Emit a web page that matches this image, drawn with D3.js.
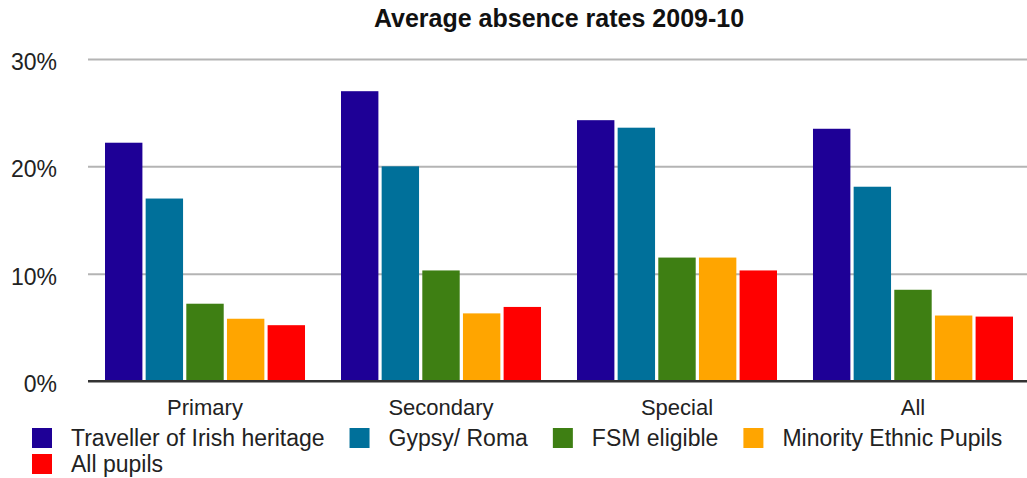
<!DOCTYPE html>
<html>
<head>
<meta charset="utf-8">
<script src="https://cdn.jsdelivr.net/npm/d3@7/dist/d3.min.js"></script>
<style>
  html, body { margin: 0; padding: 0; background: #ffffff; }
  svg { display: block; font-family: "Liberation Sans", Arial, Helvetica, sans-serif; }
</style>
</head>
<body>
<svg id="chart" width="1027" height="478"></svg>
<script>
// Average absence rates 2009-10, by school phase and pupil group (%)
const phases = ["Primary", "Secondary", "Special", "All"];
const groups = ["Traveller of Irish heritage", "Gypsy/ Roma", "FSM eligible", "Minority Ethnic Pupils", "All pupils"];
const colors = ["#1e0096", "#00709a", "#3e7f13", "#ffa500", "#ff0000"];

const traveller = [22.2, 27.0, 24.3, 23.5];
const gypsyRoma = [17.0, 20.0, 23.6, 18.1];
const fsmEligible = [7.2, 10.3, 11.5, 8.5];
const minorityEthnic = [5.8, 6.3, 11.5, 6.1];
const allPupils = [5.2, 6.9, 10.3, 6.0];

const yTicks = [0, 10, 20, 30];
const yTickLabels = ["0%", "10%", "20%", "30%"];

const seriesValues = [traveller, gypsyRoma, fsmEligible, minorityEthnic, allPupils];
const rows = phases.map((p, i) => ({
  phase: p,
  values: groups.map((g, j) => ({ group: g, value: seriesValues[j][i] }))
}));

const svg = d3.select("#chart");
const W = 1027;

const x0 = d3.scaleBand().domain(phases).range([87, 1031])
  .paddingInner(0.1525).paddingOuter(0.0763);
const x1 = d3.scaleBand().domain(groups).range([0, x0.bandwidth()])
  .paddingInner(0.08).paddingOuter(0);
const y = d3.scaleLinear().domain([0, 30]).range([381, 59]);
const color = d3.scaleOrdinal().domain(groups).range(colors);

// Title
svg.append("text")
  .attr("x", 559).attr("y", 27)
  .attr("text-anchor", "middle")
  .attr("font-size", 25).attr("font-weight", "bold")
  .attr("fill", "#111")
  .text("Average absence rates 2009-10");

// Horizontal gridlines and y labels
const yAxis = d3.axisLeft(y)
  .tickValues(yTicks)
  .tickFormat((d, i) => yTickLabels[i])
  .tickSize(-(W - 88))
  .tickPadding(31);
const gy = svg.append("g").attr("transform", "translate(88,0)").call(yAxis);
gy.select(".domain").remove();
gy.selectAll(".tick line").attr("stroke", "#b4b4b4").attr("stroke-width", 2)
  .filter(d => d === 0).attr("stroke", "#333").attr("stroke-width", 2);
gy.selectAll(".tick text")
  .attr("font-size", 23).attr("fill", "#222")
  .attr("dy", "0.45em");

// Bars
const gGroups = svg.append("g").selectAll("g")
  .data(rows).join("g")
  .attr("transform", d => `translate(${x0(d.phase)},0)`);
gGroups.selectAll("rect")
  .data(d => d.values).join("rect")
  .attr("x", d => x1(d.group))
  .attr("width", x1.bandwidth())
  .attr("y", d => y(d.value))
  .attr("height", d => y(0) - y(d.value))
  .attr("fill", d => color(d.group));

// Baseline drawn over the bars
svg.append("line")
  .attr("x1", 88).attr("x2", W)
  .attr("y1", y(0)).attr("y2", y(0))
  .attr("stroke", "#333").attr("stroke-width", 2);

// Category axis labels
const xAxis = d3.axisBottom(x0).tickSize(0).tickPadding(18);
const gx = svg.append("g").attr("transform", `translate(0,${y(0)})`).call(xAxis);
gx.select(".domain").remove();
gx.selectAll(".tick text").attr("font-size", 22).attr("fill", "#222");

// Legend, flowing left to right and wrapping
const legend = svg.append("g");
const legendLeft = 32, legendRight = 1020, sw = 20, textOff = 39, gap = 25, rowH = 26;
let lx = legendLeft, ly = 428;
groups.forEach((g, i) => {
  const item = legend.append("g");
  const t = item.append("text")
    .attr("x", textOff).attr("y", 18)
    .attr("font-size", 23).attr("fill", "#222")
    .text(g);
  const w = t.node().getComputedTextLength();
  if (lx + textOff + w > legendRight && lx > legendLeft) {
    lx = legendLeft; ly += rowH;
  }
  item.attr("transform", `translate(${lx},${ly})`);
  item.insert("rect", "text")
    .attr("width", sw).attr("height", sw)
    .attr("fill", color(g));
  lx += textOff + w + gap;
});
</script>
</body>
</html>
